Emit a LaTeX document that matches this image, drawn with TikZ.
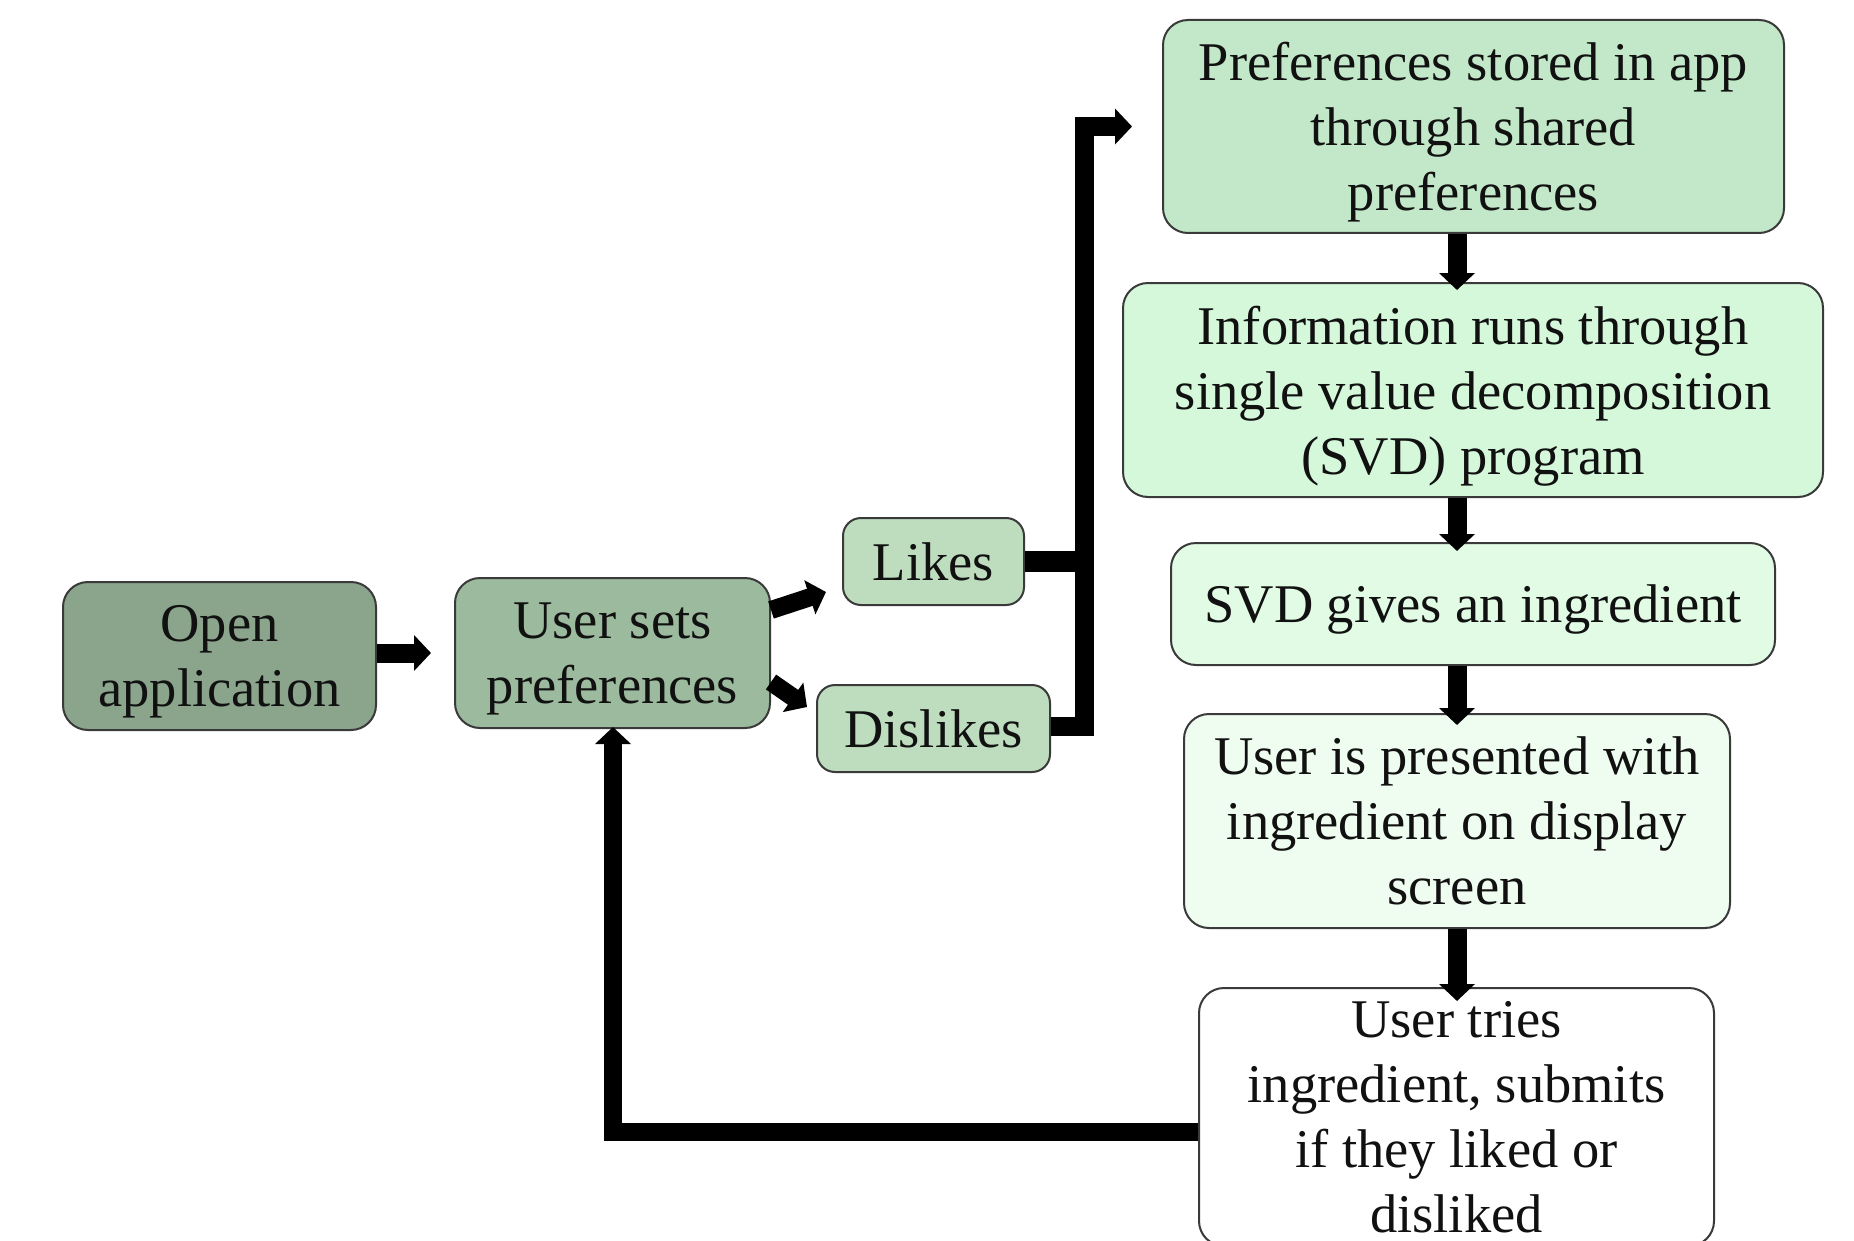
\documentclass[tikz,border=0pt]{standalone}
\usepackage{fontspec}
\setmainfont{Liberation Serif}
\usetikzlibrary{arrows.meta}
\definecolor{bordercol}{HTML}{3A3A3A}
\definecolor{cOpen}{HTML}{8AA58C}
\definecolor{cUser}{HTML}{9CBA9D}
\definecolor{cLike}{HTML}{BEDDBF}
\definecolor{cPref}{HTML}{C3E8C9}
\definecolor{cInfo}{HTML}{D5F8DA}
\definecolor{cSvd}{HTML}{E2FBE5}
\definecolor{cPres}{HTML}{EFFDF0}
\definecolor{cTxt}{HTML}{111111}
\begin{document}
\begin{tikzpicture}[x=1pt,y=-1pt,
  box/.style={draw=bordercol, line width=2pt, rounded corners=25pt, inner sep=0pt,
    align=center, font=\fontsize{54.5pt}{65pt}\selectfont, text=cTxt, text depth=0pt},
  smallbox/.style={box, rounded corners=18pt},
  arr/.style={line width=19pt, line join=miter, -{Triangle[width=35pt,length=17pt]}},
  conn/.style={line width=19pt, line join=miter}]
\useasboundingbox (0,0) rectangle (1854,1241);
\fill[white] (0,0) rectangle (1854,1241);

% nodes
\node[box, fill=cOpen, minimum width=313pt, minimum height=148pt] (open) at (219.5,656) {Open\\application};
\node[box, fill=cUser, minimum width=315pt, minimum height=150pt] (user) at (612.5,653) {User sets\\preferences};
\node[smallbox, fill=cLike, minimum width=181pt, minimum height=87pt] (likes) at (933.5,561.5) {Likes};
\node[smallbox, fill=cLike, minimum width=233pt, minimum height=87pt] (dislikes) at (933.5,728.5) {Dislikes};
\node[box, fill=cPref, minimum width=621pt, minimum height=213pt] (pref) at (1473.5,126.5) {Preferences stored in app\\through shared\\preferences};
\node[box, fill=cInfo, minimum width=700pt, minimum height=214pt] (info) at (1473,390) {Information runs through\\single value decomposition\\(SVD) program};
\node[box, fill=cSvd, minimum width=604pt, minimum height=122pt] (svd) at (1473,604) {SVD gives an ingredient};
\node[box, fill=cPres, minimum width=546pt, minimum height=214pt] (pres) at (1457,821) {User is presented with\\ingredient on display\\screen};
\node[box, fill=white, minimum width=515pt, minimum height=258pt] (tries) at (1456.5,1117) {User tries\\ingredient, submits\\if they liked or\\disliked};

\coordinate (col) at (1457,0);
\coordinate (bar) at (1084,0);
\coordinate (loop) at (613,0);

% connectors
\draw[arr, shorten >=23pt] (open.east |- user.west) -- (user.west);
\draw[arr, line width=18pt] ([yshift=43pt]user.east) -- ([xshift=-16pt,yshift=-30.5pt]likes.west);
\draw[arr, line width=18pt] ([yshift=-29pt]user.east) -- ([xshift=-9pt,yshift=21.5pt]dislikes.west);
\draw[conn, line width=21pt] (likes.east) -- (likes.east -| bar);
\draw[arr, shorten >=30pt] ([yshift=2pt]dislikes.east) -- ([yshift=2pt]dislikes.east -| bar) -- (pref.west -| bar) -- (pref.west);
\draw[arr, shorten >=-8pt] (pref.south -| col) -- (info.north -| col);
\draw[arr, shorten >=-9pt] (info.south -| col) -- (svd.north -| col);
\draw[arr, shorten >=-12pt] (svd.south -| col) -- (pres.north -| col);
\draw[arr, shorten >=-14pt] (pres.south -| col) -- (tries.north -| col);
\draw[arr, line width=18pt, shorten >=-2pt] ([yshift=-15pt]tries.west) -- ([yshift=-15pt]tries.west -| loop) -- (user.south -| loop);
\end{tikzpicture}
\end{document}
